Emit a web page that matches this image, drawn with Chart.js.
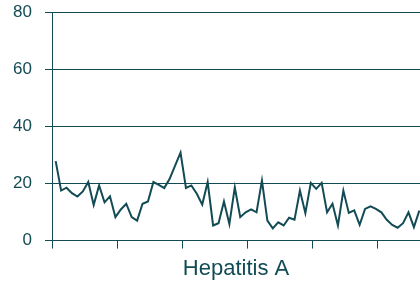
<!DOCTYPE html>
<html>
<head>
<meta charset="utf-8">
<script src="https://cdn.jsdelivr.net/npm/chart.js@4/dist/chart.umd.min.js"></script>
<style>
  html, body { margin: 0; padding: 0; background: #fff; }
  #wrap { width: 420px; height: 284px; }
</style>
</head>
<body>
<div id="wrap"><canvas id="line-chart"></canvas></div>
<script>
// monthly counts
var cases = [27.8, 17.5, 18.5, 16.6, 15.4, 17.2, 20.5, 12.5, 19.3, 13.4, 15.5, 8.2,
  10.9, 12.9, 8.2, 7, 12.9, 13.7, 20.5, 19.5, 18.4, 21.6, 26.2, 30.8,
  18.4, 19.3, 16.4, 12.6, 20.5, 5.3, 6.1, 13.7, 5.8, 18.6, 8.2, 9.9,
  10.9, 9.9, 21, 7, 4.3, 6.4, 5.3, 8.0, 7.3, 17.5, 9.6, 20.2,
  18.1, 20.2, 9.9, 12.9, 5.3, 17.5, 9.7, 10.6, 5.5, 11.1, 12, 11.1,
  9.9, 7.3, 5.5, 4.5, 6.1, 9.9, 4.7, 10.5];
var yTicks = [0, 20, 40, 60, 80];
var chartTitle = "Hepatitis A";

var ink = "#134b55";
var points = cases.map(function (v, i) { return { x: i + 0.68, y: v }; });

Chart.defaults.font.family = "'Liberation Sans', Arial, sans-serif";
Chart.defaults.color = ink;

new Chart(document.getElementById("line-chart"), {
  type: 'line',
  data: {
    datasets: [{
      data: points,
      borderColor: ink,
      borderWidth: 2,
      pointRadius: 0,
      tension: 0,
      fill: false
    }]
  },
  options: {
    responsive: true,
    maintainAspectRatio: false,
    animation: false,
    layout: { padding: { top: 12, right: 0, bottom: 2, left: 0 } },
    plugins: {
      legend: { display: false },
      tooltip: { enabled: false }
    },
    scales: {
      x: {
        type: 'linear',
        min: 0,
        max: 67.8,
        ticks: { display: false, stepSize: 12 },
        grid: { drawOnChartArea: false, color: ink, tickLength: 8 },
        border: { color: ink, width: 1 },
        title: {
          display: true,
          text: chartTitle,
          color: ink,
          font: { size: 22 },
          padding: { top: 7, bottom: 0 }
        }
      },
      y: {
        min: 0,
        max: 80,
        afterBuildTicks: function (axis) {
          axis.ticks = yTicks.map(function (v) { return { value: v }; });
        },
        afterFit: function (axis) {
          axis.width = 52;
          axis.paddingTop = 0;
          axis.paddingBottom = 0;
        },
        ticks: { padding: 13, font: { size: 17 }, color: ink },
        grid: { color: ink, tickLength: 7 },
        border: { color: ink, width: 1 }
      }
    }
  }
});
</script>
</body>
</html>
